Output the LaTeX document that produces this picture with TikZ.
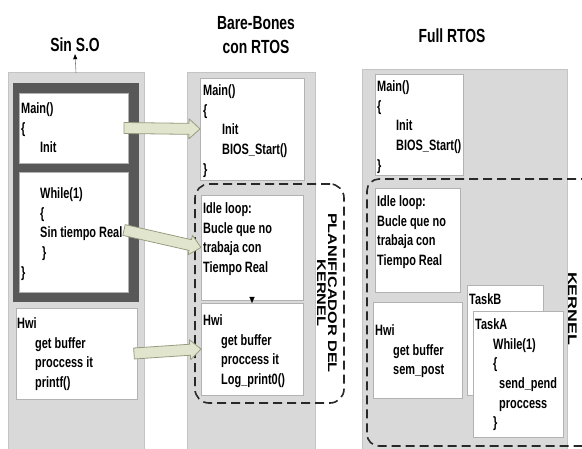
\documentclass[tikz,border=0pt]{standalone}
\usepackage{fontspec}
\setmainfont{Liberation Sans}[FakeStretch=0.73]
\newfontfamily\rotfont{Liberation Sans}
\usetikzlibrary{calc,fit,arrows.meta}
\definecolor{panel}{RGB}{217,217,217}
\definecolor{panelb}{RGB}{196,196,196}
\definecolor{darkb}{RGB}{88,88,88}
\definecolor{boxb}{RGB}{178,178,178}
\definecolor{afill}{RGB}{226,229,206}
\definecolor{aline}{RGB}{150,156,128}
\definecolor{dashc}{RGB}{40,40,40}
\newcommand\txtline[2][0]{\hbox{\kern#1pt #2}}
\newcommand\blk[1]{\vtop{\baselineskip=19.7pt\lineskiplimit=-20pt\lineskip=0pt #1}}
\newcommand\blockarrow[2]{%
  \coordinate (ah) at ($(#2)!11pt!(#1)$);
  \filldraw[barrow] ($(#1)!5.5pt!90:(#2)$) -- ($(ah)!5.5pt!90:(#2)$) -- ($(ah)!10pt!90:(#2)$) -- (#2) -- ($(ah)!10pt!-90:(#2)$) -- ($(ah)!5.5pt!-90:(#2)$) -- ($(#1)!5.5pt!-90:(#2)$) -- cycle;}
\tikzset{
  panelbox/.style={draw=panelb, fill=panel, line width=1pt, inner sep=0pt, outer sep=0pt},
  darkbox/.style={draw=darkb, fill=darkb, inner sep=0pt, outer sep=0pt},
  wbox/.style={draw=boxb, fill=white, line width=0.8pt, inner sep=0pt, outer sep=0pt},
  dashbox/.style={draw=dashc, line width=1.6pt, dash pattern=on 9pt off 5pt, rounded corners=14pt, inner sep=0pt, outer sep=0pt},
  txt/.style={anchor=base west, inner sep=0pt, font=\bfseries\fontsize{15}{19.7}\selectfont},
  ttl/.style={font=\bfseries\fontsize{19}{24}\selectfont, align=center, inner sep=2pt},
  rot/.style={rotate=-90, align=center, inner sep=0pt, font=\rotfont\bfseries\fontsize{12.5}{11}\selectfont},
  barrow/.style={fill=afill, draw=aline, line width=0.8pt, line join=round},
  tinyarrow/.style={draw=gray, line width=0.6pt, -{Triangle[length=5pt,width=4pt,color=black]}}
}
\begin{document}
\begin{tikzpicture}[x=1pt,y=-1pt]
\useasboundingbox (0,0) rectangle (582,449);
\clip (0,0) rectangle (582,449);
% panels
\node[panelbox, fit={(8,73) (144,455)}] (p1) {};
\node[panelbox, fit={(187,73) (315,455)}] (p2) {};
\node[panelbox, fit={(362,70) (567,455)}] (p3) {};
\node[darkbox, fit={(13,83) (138,301)}] (d1) {};
% white boxes
\node[wbox, fit={(19,93) (128,163)}] (m1) {};
\node[wbox, fit={(19,172) (128,292)}] (w1) {};
\node[wbox, fit={(16,308) (137,399)}] (h1) {};
\node[wbox, fit={(200,78) (304,180)}] (m2) {};
\node[wbox, fit={(201,195) (303,300)}] (i2) {};
\node[wbox, fit={(201,303) (303,395)}] (h2) {};
\node[wbox, fit={(375,74) (463,175)}] (m3) {};
\node[wbox, fit={(375,188) (460,292)}] (i3) {};
\node[wbox, fit={(373,302) (462,398)}] (h3) {};
\node[wbox, fit={(467,285) (543,395)}] (tb) {};
\node[wbox, fit={(473,311) (563,437)}] (ta) {};
% dashed kernel regions
\node[dashbox, fit={(195,184) (344,403)}] (k2) {};
\draw[draw=dashc, line width=1.6pt, dash pattern=on 9pt off 5pt, rounded corners=12pt] (590,179) -- (367,179) -- (367,446) -- (590,446);
% titles
\node[ttl] (t1) at (75,45) {Sin S.O};
\node[ttl] (t2) at (256,35) {Bare-Bones\\con RTOS};
\node[ttl] (t3) at (452,36) {Full RTOS};
\draw[tinyarrow] (p1.north) -- (t1.south);
% texts column 1
\node[txt] (tm1) at (21,113.5) {\blk{\txtline{Main()}\txtline{\{}\txtline[19]{Init}}};
\node[txt] (tw1) at (21,198.5) {\blk{\txtline[19]{While(1)}\txtline[19]{\{}\txtline[19]{Sin tiempo Real}\txtline[21]{\}}\txtline{\}}}};
\node[txt] (th1) at (17,328.5) {\blk{\txtline{Hwi}\txtline[18]{get buffer}\txtline[18]{proccess it}\txtline[18]{printf()}}};
% texts column 2
\node[txt] (tm2) at (203,95.5) {\blk{\txtline{Main()}\txtline{\{}\txtline[19]{Init}\txtline[19]{BIOS\_Start()}\txtline{\}}}};
\node[txt] (ti2) at (203,213.5) {\blk{\txtline{Idle loop:}\txtline{Bucle que no}\txtline{trabaja con}\txtline{Tiempo Real}}};
\node[txt] (th2) at (203,325.5) {\blk{\txtline{Hwi}\txtline[18]{get buffer}\txtline[18]{proccess it}\txtline[18]{Log\_print0()}}};
% texts column 3
\node[txt] (tm3) at (377,91.5) {\blk{\txtline{Main()}\txtline{\{}\txtline[19]{Init}\txtline[19]{BIOS\_Start()}\txtline{\}}}};
\node[txt] (ti3) at (377,206.5) {\blk{\txtline{Idle loop:}\txtline{Bucle que no}\txtline{trabaja con}\txtline{Tiempo Real}}};
\node[txt] (th3) at (375,335.5) {\blk{\txtline{Hwi}\txtline[18]{get buffer}\txtline[18]{sem\_post}}};
\node[txt] (ttb) at (469,304.5) {TaskB};
\node[txt] (tta) at (475,329.5) {\blk{\txtline{TaskA}\txtline[18]{While(1)}\txtline[18]{\{}\txtline[24]{send\_pend}\txtline[24]{proccess}\txtline[18]{\}}}};
% rotated labels
\node[rot] (pk2) at (327,293) {\scalebox{1.3}[1]{PLANIFICADOR DEL}\\\scalebox{1.3}[1]{KERNEL}};
\node[rot] (pk3) at (572.5,308.5) {\scalebox{1.42}[1]{KERNEL}};
% small arrow between idle and hwi
\draw[line width=0.3pt, -{Triangle[length=6pt,width=5pt]}] (i2.south) -- (h2.north);
% block arrows
\coordinate (a1s) at ([xshift=-4pt]m1.east);
\coordinate (a2s) at ([xshift=-4pt,yshift=2pt]w1.east);
\coordinate (a3s) at ([xshift=-3pt]h1.east);
\blockarrow{a1s}{m2.west}
\blockarrow{a2s}{i2.west}
\blockarrow{a3s}{h2.west}
\end{tikzpicture}
\end{document}
